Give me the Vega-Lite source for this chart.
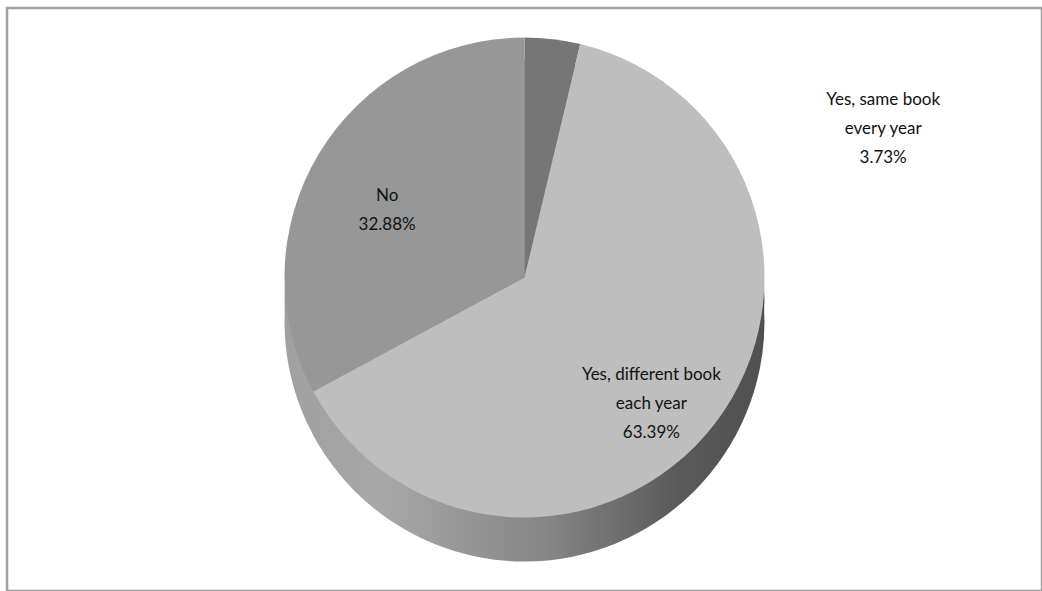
{
  "$schema": "https://vega.github.io/schema/vega-lite/v6.json",
  "width": 1035,
  "height": 583,
  "autosize": "none",
  "padding": {"left": 7, "top": 8, "right": 0, "bottom": 0},
  "background": "white",
  "view": {"stroke": "#a0a0a0", "strokeWidth": 2.5},
  "data": {
    "values": [
      {"idx": 1, "answer": "Yes, same book every year", "pct": 3.73, "label": "Yes, same book\nevery year\n3.73%"},
      {"idx": 2, "answer": "Yes, different book each year", "pct": 63.39, "label": "Yes, different book\neach year\n63.39%"},
      {"idx": 3, "answer": "No", "pct": 32.88, "label": "No\n32.88%"}
    ]
  },
  "layer": [
    {
      "transform": [{"aggregate": [{"op": "sum", "field": "pct", "as": "total"}]}],
      "mark": {
        "type": "arc", "outerRadius": 240, "yOffset": 22,
        "color": {"gradient": "linear", "x1": 0, "x2": 1, "y1": 0, "y2": 0,
          "stops": [{"offset": 0, "color": "#a0a0a0"}, {"offset": 0.2, "color": "#a8a8a8"}, {"offset": 0.55, "color": "#858585"}, {"offset": 0.82, "color": "#5a5a5a"}, {"offset": 1, "color": "#505050"}]}
      },
      "encoding": {"theta": {"field": "total", "type": "quantitative"}}
    },
    {
      "transform": [{"aggregate": [{"op": "sum", "field": "pct", "as": "total"}]}],
      "mark": {
        "type": "arc", "outerRadius": 240, "yOffset": 0,
        "color": {"gradient": "linear", "x1": 0, "x2": 1, "y1": 0, "y2": 0,
          "stops": [{"offset": 0, "color": "#a0a0a0"}, {"offset": 0.2, "color": "#a8a8a8"}, {"offset": 0.55, "color": "#858585"}, {"offset": 0.82, "color": "#5a5a5a"}, {"offset": 1, "color": "#505050"}]}
      },
      "encoding": {"theta": {"field": "total", "type": "quantitative"}}
    },
    {
      "mark": {"type": "arc", "outerRadius": 240, "yOffset": -22},
      "encoding": {
        "theta": {"field": "pct", "type": "quantitative", "stack": true},
        "order": {"field": "idx", "type": "quantitative"},
        "color": {
          "field": "answer", "type": "nominal",
          "scale": {"domain": ["Yes, same book every year", "Yes, different book each year", "No"], "range": ["#767676", "#bebebe", "#979797"]},
          "legend": null
        }
      }
    },
    {
      "mark": {"type": "text", "radius": 160, "yOffset": -22, "font": "Lato", "fontSize": 17, "lineBreak": "\n", "lineHeight": 29, "color": "#111111", "align": "center", "baseline": "middle"},
      "encoding": {
        "theta": {"field": "pct", "type": "quantitative", "stack": true},
        "order": {"field": "idx", "type": "quantitative"},
        "text": {"field": "label"},
        "opacity": {"condition": {"test": "datum.idx == 1", "value": 0}, "value": 1}
      }
    },
    {
      "mark": {"type": "text", "radius": 262, "yOffset": -22, "dx": 328, "dy": 83, "font": "Lato", "fontSize": 17, "lineBreak": "\n", "lineHeight": 29, "color": "#111111", "align": "center", "baseline": "middle"},
      "encoding": {
        "theta": {"field": "pct", "type": "quantitative", "stack": true},
        "order": {"field": "idx", "type": "quantitative"},
        "text": {"field": "label"},
        "opacity": {"condition": {"test": "datum.idx == 1", "value": 1}, "value": 0}
      }
    }
  ]
}
